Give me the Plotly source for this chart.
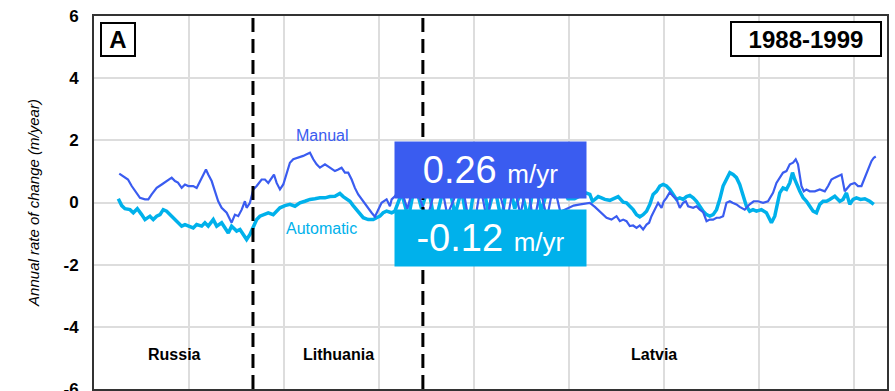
import plotly.graph_objects as go

# distance along coast (km) and annual rate of change (m/year)
manual_x = [26.6, 30.5, 35.8, 39.7, 44.9, 48.4, 53.7, 57.2, 60.7, 66.0, 71.3, 76.5, 81.8, 85.3, 88.4, 92.3, 95.8, 99.3,
            104.5, 108.1, 111.6, 115.0, 117.9, 120.3, 123.9, 127.4, 130.8, 134.4, 139.7, 143.2, 144.9, 148.4, 151.9,
            155.5, 158.9, 160.7, 164.2, 167.7, 171.3, 176.5, 180.0, 183.5, 187.0, 189.5, 192.3, 195.8, 199.3, 202.8,
            206.3, 209.8, 215.1, 220.3, 223.9, 227.4, 230.9, 234.4, 237.9, 243.2, 248.4, 253.7, 257.2, 260.7, 264.2,
            267.7, 271.3, 274.7, 278.2, 281.8, 287.0, 292.3, 295.8, 299.3, 302.8, 308.1, 311.6, 313.4, 316.8,
            323, 330, 337, 344, 351, 358, 365, 372, 379, 386, 393, 400, 407, 414, 421, 428, 435, 442, 449, 456,
            463, 470, 477, 484, 491, 498, 505, 512,
            518.0, 522.1, 527.4, 532.6, 536.1, 539.7, 544.9, 550.2, 553.7, 557.2, 560.7, 564.2, 567.7, 571.3, 574.7,
            578.2, 581.8, 584.5, 587.0, 590.5, 594.0, 597.6, 600.0, 602.8, 606.3, 609.8, 613.4, 616.8, 620.3, 623.2,
            625.6, 630.9, 634.4, 637.9, 641.4, 645.0, 648.4, 651.9, 655.5, 658.9, 662.4, 666.0, 669.5, 672.3, 676.5,
            679.9, 685.2, 690.4, 694.6, 699.2, 704.5, 709.7, 715.0, 718.6, 722.1, 725.5, 729.1, 732.6, 736.1, 738.9,
            741.3, 743.2, 744.9, 747.4, 750.2, 753.7, 759.0, 764.2, 769.5, 773.0, 776.5, 780.0, 783.5, 787.1, 790.5,
            794.0, 796.5, 801.0, 804.5, 808.1, 811.6, 815.0, 818.6, 821.1, 823.2, 825.6, 828.1]
manual_y = [0.93, 0.85, 0.74, 0.53, 0.31, 0.15, 0.10, 0.10, 0.26, 0.47, 0.58, 0.69, 0.80, 0.69, 0.64, 0.47, 0.58, 0.53,
            0.53, 0.47, 0.69, 0.85, 1.06, 0.90, 0.69, 0.36, 0.04, -0.17, -0.33, -0.55, -0.65, -0.39, -0.44,
            -0.23, 0.04, -0.17, -0.01, 0.42, 0.53, 0.74, 0.74, 0.63, 0.80, 0.90, 0.63, 0.42, 0.58, 0.90,
            1.28, 1.39, 1.44, 1.50, 1.55, 1.60, 1.39, 1.23, 1.12, 1.23, 1.12, 1.01, 1.06, 1.12, 0.96,
            0.96, 0.74, 0.47, 0.26, 0.10, -0.12, -0.33, -0.46, -0.23, -0.01, 0.10, -0.12, 0.10, 0.20,
            0.45, -0.2, 0.6, 0.05, -0.5, 0.3, 0.7, -0.4, 0.1, 0.9, -0.3, -0.8, 0.5, -0.6, 0.8, 0.2, -0.6, 0.6,
            -0.4, 0.7, -0.7, 0.4, -0.5, 0.6, -0.3, -0.2,
            -0.10, -0.06, -0.03, -0.01, -0.14, -0.28, -0.39, -0.49, -0.55, -0.44, -0.60, -0.55, -0.60, -0.76, -0.74,
            -0.82, -0.74, -0.87, -0.71, -0.65, -0.44, -0.23, -0.01, -0.17, 0.04, 0.15, 0.33, 0.20, 0.10, -0.17,
            -0.01, 0.04, -0.12, -0.17, -0.12, -0.23, -0.31, -0.60, -0.55, -0.55, -0.49, -0.49, -0.44, -0.01, 0.04,
            -0.01, -0.06, -0.14, -0.23, -0.06, 0.04, 0.04, -0.01, 0.04, 0.31, 0.63, 0.80, 0.96, 1.01, 1.23,
            1.28, 1.39, 1.23, 0.85, 0.53, 0.36, 0.42, 0.36, 0.36, 0.42, 0.36, 0.53, 0.74, 0.80, 0.85,
            0.90, 0.36, 0.47, 0.58, 0.63, 0.53, 0.53, 0.80, 1.06, 1.33, 1.44, 1.48]

auto_x = [25.6, 29.2, 32.6, 37.9, 41.4, 45.6, 50.2, 53.7, 58.9, 62.4, 66.0, 69.5, 72.9, 76.5, 81.8, 87.0, 92.3, 95.8,
          99.3, 104.5, 108.1, 113.4, 116.8, 120.3, 125.6, 129.2, 134.4, 137.9, 141.4, 144.9, 150.2, 153.7, 157.2,
          160.7, 164.2, 167.7, 171.3, 174.7, 180.0, 183.5, 188.7, 192.3, 195.8, 201.1, 206.3, 211.6, 216.8, 222.1,
          227.4, 232.6, 237.9, 243.2, 248.4, 253.7, 258.9, 262.4, 266.0, 269.5, 272.9, 276.5, 280.0, 283.5, 288.7,
          294.0, 297.6, 301.1, 304.5, 308.1, 313.4, 316.8,
          324, 331, 338, 345, 352, 359, 366, 373, 380, 387, 394, 401, 408, 415, 422, 429, 436, 443, 450, 457,
          464, 471, 478, 485, 492, 499, 506, 512,
          518.0, 522.1, 524.9, 527.4, 530.9, 534.4, 537.9, 543.2, 546.6, 551.9, 557.2, 560.7, 564.2, 567.7, 571.3,
          574.7, 578.2, 581.8, 585.3, 588.7, 592.3, 595.8, 599.3, 602.8, 606.3, 609.8, 613.4, 616.8, 620.3, 623.9,
          627.4, 630.9, 634.4, 637.9, 641.4, 645.0, 648.4, 651.9, 655.5, 658.9, 662.4, 666.0, 669.5, 672.9, 676.5,
          679.9, 683.4, 687.0, 690.4, 693.9, 697.5, 702.8, 708.0, 713.3, 716.8, 720.3, 722.1, 725.5, 729.1, 732.6,
          735.5, 737.9, 740.3, 743.2, 746.7, 750.2, 753.7, 757.2, 760.7, 764.2, 767.7, 771.3, 774.7, 780.0, 785.3,
          788.7, 792.3, 795.8, 799.3, 802.8, 807.1, 811.6, 816.8, 821.1, 823.9, 827.9]
auto_y = [0.12, -0.10, -0.20, -0.23, -0.33, -0.20, -0.39, -0.55, -0.44, -0.55, -0.44, -0.39, -0.23, -0.28, -0.44, -0.60,
          -0.76, -0.71, -0.76, -0.82, -0.71, -0.76, -0.65, -0.76, -0.55, -0.76, -0.65, -0.82, -0.98, -0.76, -0.92,
          -0.87, -1.03, -1.19, -1.03, -0.76, -0.55, -0.44, -0.39, -0.33, -0.39, -0.28, -0.17, -0.10, -0.06, -0.12,
          -0.01, 0.04, 0.10, 0.12, 0.15, 0.15, 0.19, 0.20, 0.29, 0.19, 0.10, 0.04, -0.10, -0.23, -0.39, -0.49,
          -0.55, -0.55, -0.49, -0.44, -0.33, -0.28, -0.33, -0.28,
          0.3, -0.5, 0.6, -0.2, 0.5, -0.7, 0.2, 0.7, -0.4, 0.4, -0.8, 0.6, 0.9, -0.3, 0.5, -0.6, 0.8, -0.2,
          0.4, -0.5, 0.7, -0.3, 0.5, 0.2, 0.6, 0.12,
          0.12, 0.20, 0.31, 0.26, 0.04, 0.10, 0.19, 0.15, 0.10, 0.07, 0.12, 0.19, 0.01, -0.01, -0.12,
          -0.23, -0.39, -0.46, -0.39, -0.28, -0.06, 0.26, 0.36, 0.53, 0.58, 0.53, 0.42, 0.26, 0.10, 0.15,
          0.10, 0.19, 0.23, 0.15, 0.04, -0.12, -0.28, -0.39, -0.44, -0.39, -0.23, 0.10, 0.53, 0.75, 0.96,
          0.90, 0.80, 0.58, 0.26, -0.12, -0.28, -0.23, -0.28, -0.23, -0.33, -0.65, -0.44, 0.10, 0.31, 0.47,
          0.42, 0.63, 0.96, 0.74, 0.53, 0.36, 0.15, 0.04, -0.12, -0.28, -0.33, -0.06, 0.04, 0.04, 0.10,
          0.20, 0.04, 0.10, 0.31, -0.06, 0.10, 0.15, 0.10, 0.12, 0.04, -0.06]

y_ticks = [-6, -4, -2, 0, 2, 4, 6]
borders_x = [167.4, 346.3]
countries = ["Russia", "Lithuania", "Latvia"]
country_x = [85, 257, 590]
manual_rate = "0.26"
auto_rate = "-0.12"
period = "1988-1999"

MANUAL_C = "#3a5cf0"
AUTO_C = "#00b1eb"
FONT = "Liberation Sans, Arial"

fig = go.Figure()
fig.add_trace(go.Scatter(x=auto_x, y=auto_y, mode="lines", line=dict(color=AUTO_C, width=3.5), showlegend=False))
fig.add_trace(go.Scatter(x=manual_x, y=manual_y, mode="lines", line=dict(color=MANUAL_C, width=2.2), showlegend=False))

for bx in borders_x:
    fig.add_shape(type="line", xref="x", yref="paper", x0=bx, x1=bx, y0=0, y1=1,
                  line=dict(color="black", width=3, dash="14px,7px"))

for name, cx in zip(countries, country_x):
    fig.add_annotation(x=cx, y=-4.9, text=f"<b>{name}</b>", showarrow=False,
                       font=dict(family=FONT, size=16, color="black"))

fig.add_annotation(x=240, y=2.15, text="Manual", showarrow=False,
                   font=dict(family=FONT, size=16, color=MANUAL_C))
fig.add_annotation(x=240, y=-0.85, text="Automatic", showarrow=False,
                   font=dict(family=FONT, size=16, color=AUTO_C))

fig.add_annotation(x=417, y=1.06, text=f"{manual_rate} <span style='font-size:26px'>m/yr</span>", showarrow=False,
                   bgcolor=MANUAL_C, width=191, height=56, borderpad=0,
                   font=dict(family=FONT, size=38, color="white"))
fig.add_annotation(x=417, y=-1.13, text=f"{auto_rate} <span style='font-size:26px'>m/yr</span>", showarrow=False,
                   bgcolor=AUTO_C, width=191, height=56, borderpad=0,
                   font=dict(family=FONT, size=38, color="white"))

fig.add_annotation(xref="paper", yref="paper", x=0.0076, y=0.984, xanchor="left", yanchor="top",
                   text="<b>A</b>", showarrow=False, bgcolor="white", bordercolor="black", borderwidth=2,
                   width=32, height=31, borderpad=0,
                   font=dict(family=FONT, size=24, color="black"))
fig.add_annotation(xref="paper", yref="paper", x=0.9937, y=0.987, xanchor="right", yanchor="top",
                   text=f"<b>{period}</b>", showarrow=False, bgcolor="white", bordercolor="black", borderwidth=2,
                   width=148, height=32, borderpad=0,
                   font=dict(family=FONT, size=24, color="black"))

fig.update_layout(
    width=895, height=391,
    margin=dict(l=94, r=8, t=16, b=2),
    paper_bgcolor="white", plot_bgcolor="white",
    font=dict(family=FONT, color="black"),
)
fig.update_xaxes(range=[0, 835], dtick=100, showticklabels=False, ticks="",
                 showgrid=True, gridcolor="#dddddd", gridwidth=1.5, zeroline=False,
                 showline=True, linecolor="#333333", linewidth=2, mirror=True)
fig.update_yaxes(range=[-6, 6], tickvals=y_ticks, ticktext=[f"<b>{v}</b>" for v in y_ticks], ticks="",
                 tickfont=dict(size=17, family=FONT, color="black"), ticklabelstandoff=10,
                 ticklabeloverflow="allow", automargin=False,
                 showgrid=True, gridcolor="#dddddd", gridwidth=1.5, zeroline=False,
                 showline=True, linecolor="#333333", linewidth=2, mirror=True,
                 title=dict(text="<i>Annual rate of change (m/year)</i>", standoff=20,
                            font=dict(size=15, family=FONT, color="black")))

fig.write_html("out.html", config={"displayModeBar": False},
               post_script="document.body.style.margin='0';")
